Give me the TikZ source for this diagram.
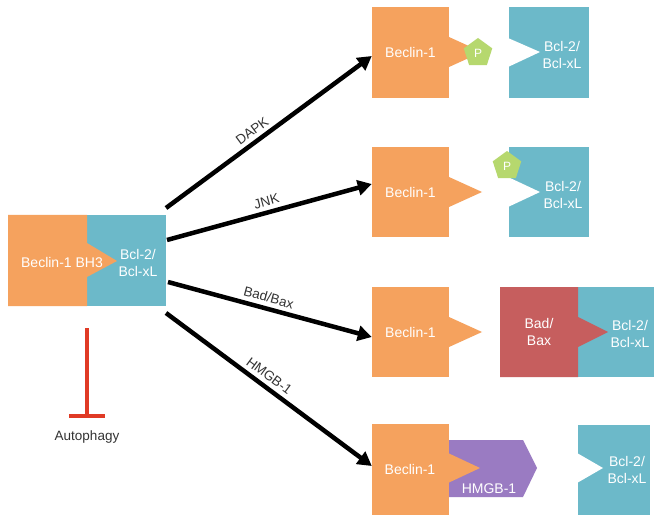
\documentclass[tikz,border=0pt]{standalone}
\usepackage{fontspec}
\setmainfont{Liberation Sans}
\usetikzlibrary{arrows.meta,shapes.geometric}
\definecolor{bor}{HTML}{F5A25E}
\definecolor{bbl}{HTML}{6CB9C9}
\definecolor{bred}{HTML}{C65E5E}
\definecolor{bpu}{HTML}{9A7BC2}
\definecolor{bgr}{HTML}{B6D86E}
\definecolor{inh}{HTML}{E03A25}
\begin{document}
\begin{tikzpicture}[x=1pt,y=-1pt,
  wtxt/.style={text=white,font=\fontsize{14}{16.5}\selectfont,align=center,inner sep=0pt},
  ltxt/.style={text=black!80,font=\fontsize{13.5}{15}\selectfont,inner sep=1pt},
  arr/.style={line width=4.5pt,-{Triangle[length=14pt,width=15pt]}},
  pent/.style={regular polygon,regular polygon sides=5,fill=bgr,minimum size=30pt,inner sep=0pt,text=white,font=\fontsize{12}{13}\selectfont}]
\useasboundingbox (0,0) rectangle (654,516);
\fill[white] (0,0) rectangle (654,516);

% left complex
\fill[bbl] (87,215) rectangle (166,306);
\fill[bor] (8,215) -- (87,215) -- (87,243) -- (117,261) -- (87,277) -- (87,306) -- (8,306) -- cycle;
\node[wtxt] (lb) at (62,262) {Beclin-1 BH3};
\node[wtxt] (lbcl) at (138,263) {Bcl-2/\\Bcl-xL};
\coordinate (s1) at (166,208);
\coordinate (s2) at (167,240);
\coordinate (s3) at (168,282);
\coordinate (s4) at (166,313);

% inhibition
\coordinate (i1) at (87,328);
\coordinate (i2) at (87,416);
\draw[inh,line width=4pt] (i1) -- (i2);
\draw[inh,line width=4pt] (69,416) -- (105,416);
\node[ltxt] (auto) at (87,437) {Autophagy};

% row 1
\fill[bor] (449,37) -- (482,52) -- (449,67) -- cycle;
\node[fill=bor,minimum width=77pt,minimum height=91pt,wtxt] (b1) at (410.5,52.5) {Beclin-1};
\node[pent] (p1) at (478,53) {P};
\fill[bbl] (509,7) rectangle (589,98);
\fill[white] (508,38) -- (540,52) -- (508,67) -- cycle;
\node[wtxt] (c1) at (562,55) {Bcl-2/\\Bcl-xL};

% row 2
\fill[bor] (449,177) -- (482,192) -- (449,207) -- cycle;
\node[fill=bor,minimum width=77pt,minimum height=90pt,wtxt] (b2) at (410.5,192) {Beclin-1};
\fill[bbl] (509,147) rectangle (589,237);
\fill[white] (508,177) -- (540,192) -- (508,207) -- cycle;
\node[pent] (p2) at (507,166) {P};
\node[wtxt] (c2) at (563,195) {Bcl-2/\\Bcl-xL};

% row 3
\fill[bor] (449,317) -- (482,332) -- (449,347) -- cycle;
\node[fill=bor,minimum width=77pt,minimum height=90pt,wtxt] (b3) at (410.5,332) {Beclin-1};
\fill[bbl] (578,287) rectangle (654,377);
\fill[bred] (500,287) -- (578,287) -- (578,317) -- (608,332) -- (578,347) -- (578,377) -- (500,377) -- cycle;
\node[wtxt] (bb) at (539,332) {Bad/\\Bax};
\node[wtxt] (c3) at (630,334) {Bcl-2/\\Bcl-xL};

% row 4
\node[fill=bor,minimum width=77pt,minimum height=91pt,wtxt] (b4) at (410.5,469.5) {};
\node[wtxt] at (410,469) {Beclin-1};
\fill[bpu] (449,440) -- (523,440) -- (537,468) -- (523,497) -- (449,497) -- cycle;
\fill[bor] (448,453) -- (480,468) -- (448,483) -- cycle;
\node[wtxt] (hm) at (489,489) {HMGB-1};
\fill[bbl] (578,425) rectangle (650,515);
\fill[white] (577,453) -- (603,468) -- (577,483) -- cycle;
\node[wtxt] (c4) at (627,470) {Bcl-2/\\Bcl-xL};

% arrows
\draw[arr] (s1) -- node[ltxt,sloped,above=3pt,pos=0.45] {DAPK} (b1.west |- 0,56);
\draw[arr] (s2) -- node[ltxt,sloped,above=3pt,pos=0.5] {JNK} (b2.west |- 0,184);
\draw[arr] (s3) -- node[ltxt,sloped,above=3pt,pos=0.48] {Bad/Bax} (b3.west |- 0,337);
\draw[arr] (s4) -- node[ltxt,sloped,above=3pt,pos=0.47] {HMGB-1} (b4.west |- 0,466);
\end{tikzpicture}
\end{document}
